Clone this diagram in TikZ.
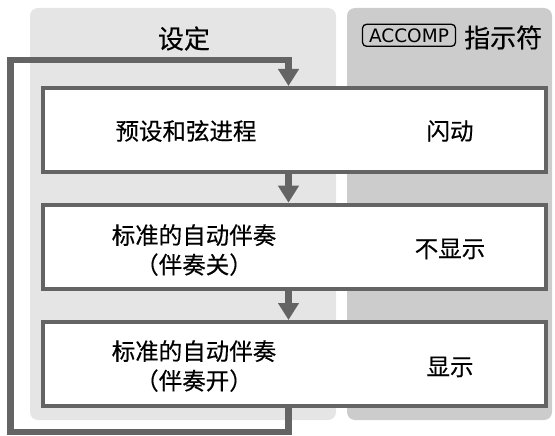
\documentclass[tikz,border=0pt]{standalone}
\usepackage{fontspec}
\setmainfont[FakeBold=0.4]{Noto Sans CJK SC}
\newfontfamily\keyfont{DejaVu Sans}
\usetikzlibrary{arrows.meta}
\definecolor{panelL}{HTML}{E5E5E5}
\definecolor{panelR}{HTML}{CCCCCC}
\definecolor{edge}{HTML}{646464}
\begin{document}
\begin{tikzpicture}[x=1pt,y=-1pt,
  stepbox/.style={draw=edge, line width=4pt, fill=white, minimum width=503pt, minimum height=84pt, inner sep=0pt},
  flow/.style={draw=edge, line width=6.5pt, line join=miter, -{Triangle[width=20pt,length=17pt]}},
  body/.style={font=\fontsize{23.5}{29.5}\selectfont, align=center, inner sep=0pt},
  head/.style={font=\fontsize{26}{30}\selectfont, inner sep=0pt},
  keycap/.style={draw=black, line width=1.3pt, rounded corners=4pt, minimum width=93pt, minimum height=22pt, inner sep=0pt, font=\keyfont\fontsize{18.5}{18.5}\selectfont}]
\useasboundingbox (0,0) rectangle (555,436);
\fill[panelL, rounded corners=8pt] (30,8) rectangle (336,420);
\fill[panelR, rounded corners=8pt] (347,8) rectangle (552,420);
\node[head] (t1) at (184,38.5) {设定};
\node[keycap] (acc) at (409,35.3) {ACCOMP};
\node[head, anchor=west] (t2) at (464,37.5) {指示符};
\node[stepbox] (b1) at (294.5,130) {};
\node[stepbox] (b2) at (294.5,246.7) {};
\node[stepbox] (b3) at (294.5,364) {};
\coordinate (ax) at (288.5,0);
\coordinate (c1) at (288.5,432);
\coordinate (c2) at (10.7,432);
\coordinate (c3) at (10.7,60);
\coordinate (c4) at (288.5,60);
\draw[flow] (ax |- b1.south) -- (ax |- b2.north);
\draw[flow] (ax |- b2.south) -- (ax |- b3.north);
\draw[flow] (ax |- b3.south) -- (c1) -- (c2) -- (c3) -- (c4) -- (ax |- b1.north);
\node[body] (l1) at (186,131) {预设和弦进程};
\node[body] (r1) at (450,131) {闪动};
\node[body] (l2) at (194,250) {标准的自动伴奏\\（伴奏关）};
\node[body] (r2) at (450,249) {不显示};
\node[body] (l3) at (194,366) {标准的自动伴奏\\（伴奏开）};
\node[body] (r3) at (450,367) {显示};
\end{tikzpicture}
\end{document}
